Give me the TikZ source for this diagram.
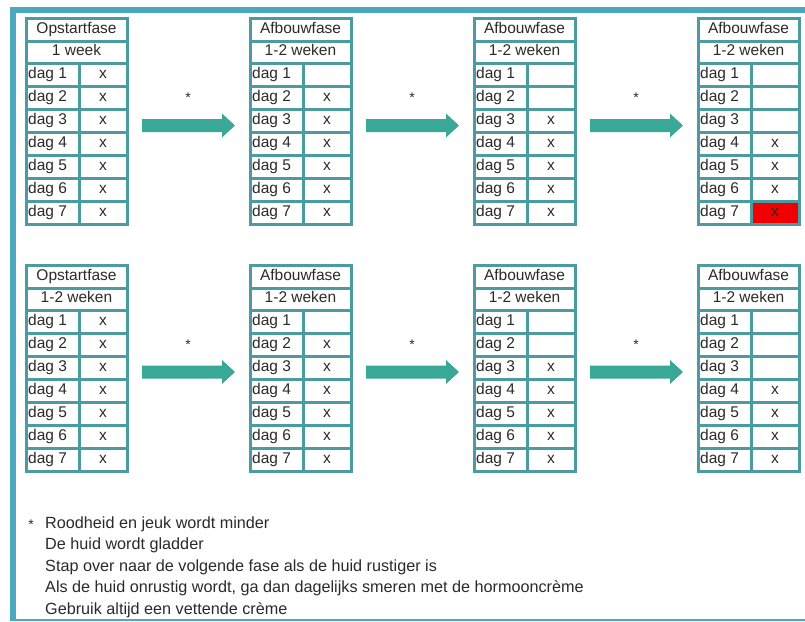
\documentclass[tikz,border=0pt]{standalone}
\usepackage{fontspec}
\setmainfont{Liberation Sans}

\definecolor{kaderblauw}{HTML}{4BA9BD}
\definecolor{tabelblauw}{HTML}{4A9CA0}
\definecolor{pijlgroen}{HTML}{3AA896}
\definecolor{rood}{HTML}{F00000}
\definecolor{tekst}{HTML}{2A2A2A}

\tikzset{
  tabel/.style={draw=tabelblauw, line width=3pt},
  cel/.style={text=tekst, font=\fontsize{15.5}{18}\selectfont, text height=10pt, text depth=3pt, inner sep=0pt},
  pijl/.style={fill=pijlgroen},
  ster/.style={text=tekst, font=\fontsize{14}{16}\selectfont, inner sep=0pt},
  voetnoot/.style={text=tekst, font=\fontsize{16.2}{20}\selectfont, anchor=base west, inner sep=0pt}
}

% name, x, y, title, duration, marks for dag 1..7
\newcommand{\fasetabel}[6]{%
  \draw[tabel] (#2,#3) rectangle ++(101,23) node[midway,cel] (#1-titel) {#4};
  \draw[tabel] (#2,#3+23) rectangle ++(101,22) node[midway,cel] (#1-duur) {#5};
  \foreach \m [count=\d] in {#6} {
    \draw[tabel] (#2,{#3+45+23*(\d-1)}) rectangle ++(53,23);
    \node[cel, anchor=west] (#1-dag\d) at (#2+2,{#3+56.5+23*(\d-1)}) {dag \d};
    \draw[tabel] (#2+53,{#3+45+23*(\d-1)}) rectangle ++(48,23) node[midway,cel] (#1-x\d) {\m};
  }}

% big arrow: start x, centre y
\newcommand{\pijl}[2]{%
  \fill[pijl] (#1,#2-6.5) -- ++(80,0) -- ++(0,-5.5) -- ++(13,12) -- ++(-13,12)
    -- ++(0,-5.5) -- ++(-80,0) -- cycle;}

\begin{document}
\begin{tikzpicture}[x=1pt, y=-1pt]
        \useasboundingbox (0,0) rectangle (805,621);
        \draw[kaderblauw, line width=6pt] (13,621) -- (13,10) -- (805,10);
        \draw[kaderblauw, line width=1.5pt] (10,620) -- (805,620);

        % red cell goes under the grid
        \fill[rood] (751,201) rectangle (799,224);

        \fasetabel{a1}{26}{18}{Opstartfase}{1 week}{x,x,x,x,x,x,x}
        \fasetabel{a2}{250}{18}{Afbouwfase}{1-2 weken}{{},x,x,x,x,x,x}
        \fasetabel{a3}{474}{18}{Afbouwfase}{1-2 weken}{{},{},x,x,x,x,x}
        \fasetabel{a4}{698}{18}{Afbouwfase}{1-2 weken}{{},{},{},x,x,x,x}

        \fasetabel{b1}{26}{265}{Opstartfase}{1-2 weken}{x,x,x,x,x,x,x}
        \fasetabel{b2}{250}{265}{Afbouwfase}{1-2 weken}{{},x,x,x,x,x,x}
        \fasetabel{b3}{474}{265}{Afbouwfase}{1-2 weken}{{},{},x,x,x,x,x}
        \fasetabel{b4}{698}{265}{Afbouwfase}{1-2 weken}{{},{},{},x,x,x,x}

        \pijl{142}{125.5}
        \pijl{366}{125.5}
        \pijl{590}{125.5}
        \pijl{142}{372}
        \pijl{366}{372}
        \pijl{590}{372}

        \node[ster] (s1) at (188,98) {*};
        \node[ster] (s2) at (412,98) {*};
        \node[ster] (s3) at (636,98) {*};
        \node[ster] (s4) at (188,345) {*};
        \node[ster] (s5) at (412,345) {*};
        \node[ster] (s6) at (636,345) {*};

        \node[ster] (noot) at (31,525) {*};
        \node[voetnoot] (r1) at (45,528) {Roodheid en jeuk wordt minder};
        \node[voetnoot] (r2) at (45,549.5) {De huid wordt gladder};
        \node[voetnoot] (r3) at (45,571) {Stap over naar de volgende fase als de huid rustiger is};
        \node[voetnoot] (r4) at (45,592.5) {Als de huid onrustig wordt, ga dan dagelijks smeren met de hormooncrème};
        \node[voetnoot] (r5) at (45,614) {Gebruik altijd een vettende crème};
    \end{tikzpicture}
\end{document}
